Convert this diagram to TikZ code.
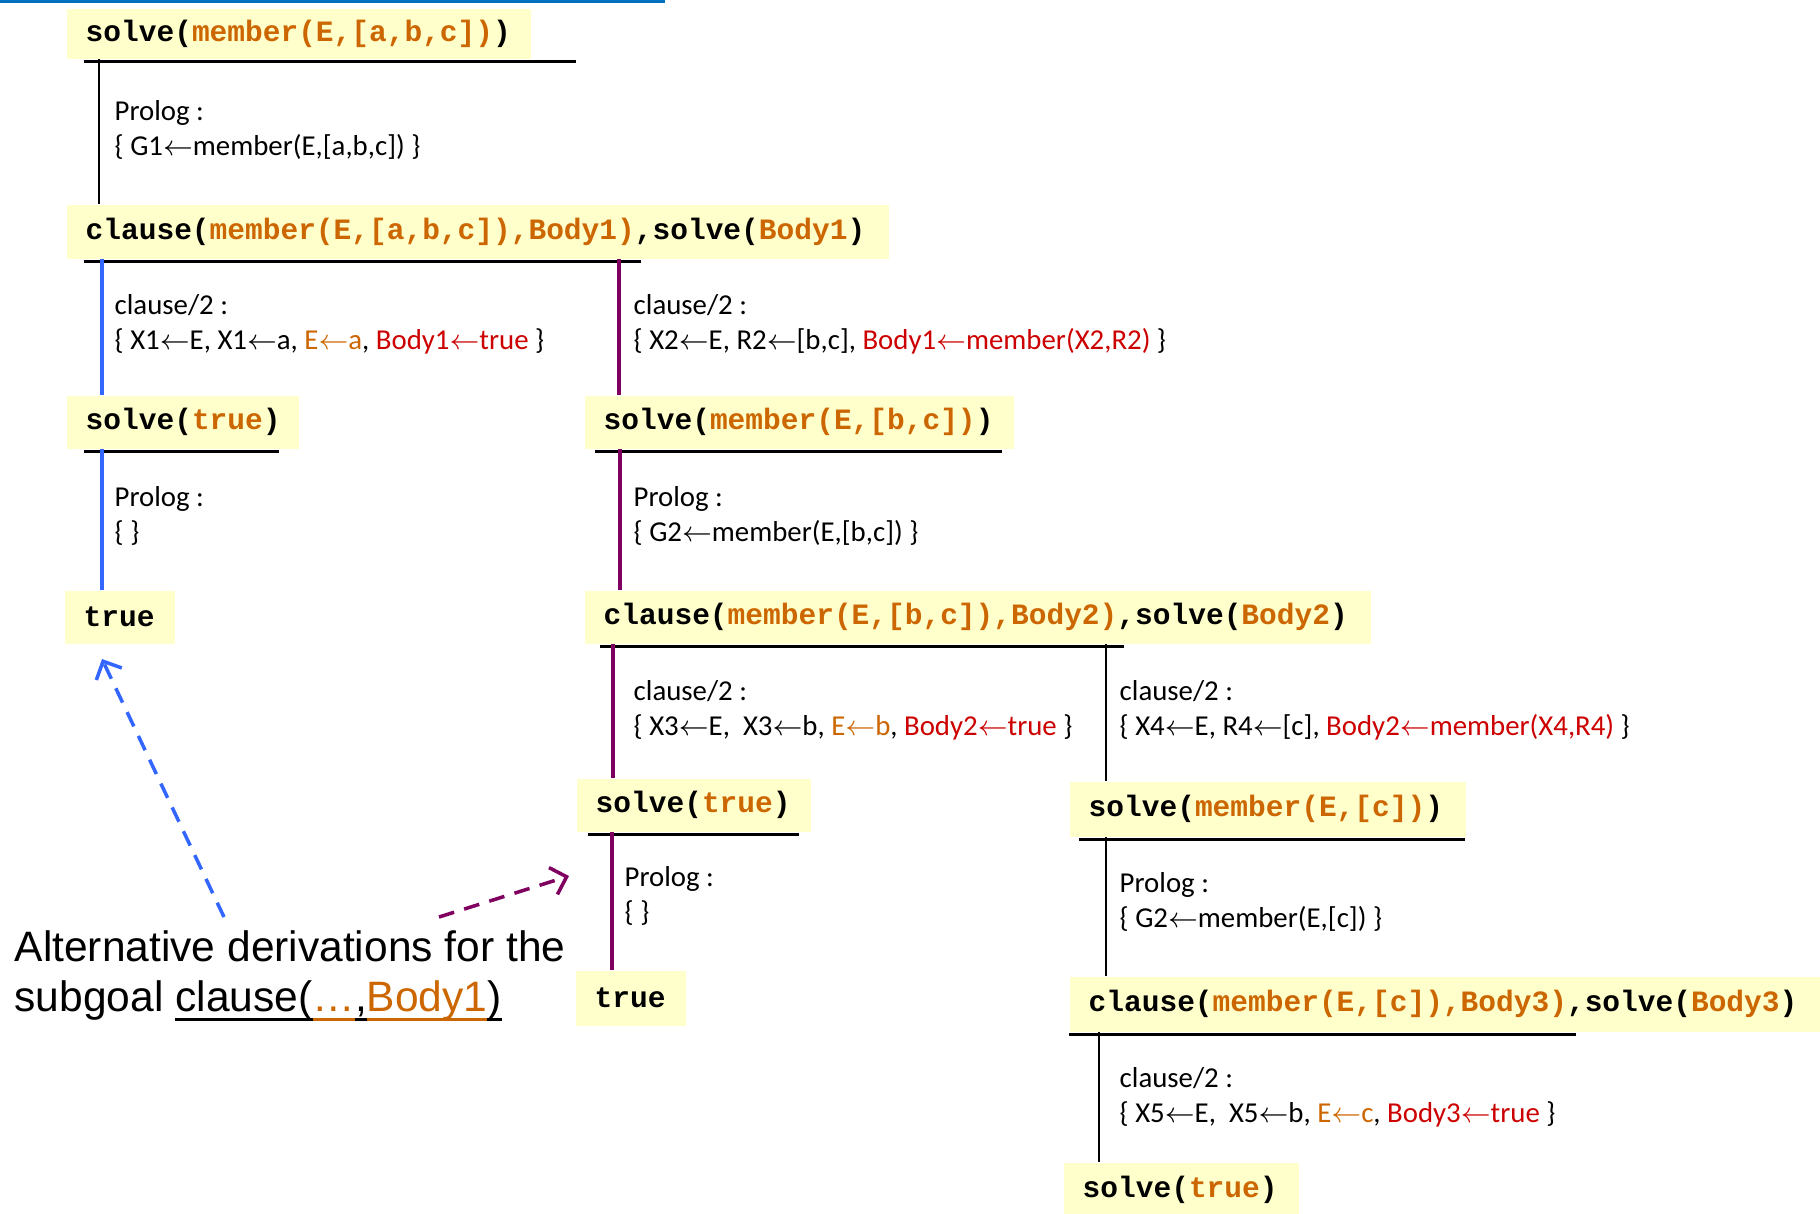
\documentclass[tikz,border=0pt]{standalone}
\usepackage{fontspec}
\setmainfont{Carlito}
\newfontfamily\codefont{Liberation Mono}
\newfontfamily\notefont{Liberation Sans}
\usetikzlibrary{arrows.meta}

\definecolor{boxyellow}{HTML}{FFFFCC}
\definecolor{termorange}{HTML}{CC6600}
\definecolor{bindred}{HTML}{CC0000}
\definecolor{pathblue}{HTML}{3366FF}
\definecolor{pathpurple}{HTML}{800060}
\definecolor{titleblue}{HTML}{0070C0}

\newcommand{\tm}[1]{\textcolor{termorange}{#1}}
\newcommand{\bd}[1]{\textcolor{bindred}{#1}}
\newcommand{\la}{\ensuremath{\leftarrow}}
\newcommand{\ulpart}[1]{\sbox0{#1}\rlap{\rule[-2.6pt]{\wd0}{0.85pt}}\usebox0}

\tikzset{
    goal/.style={fill=boxyellow, anchor=north west, align=left,
        inner xsep=1.9mm, inner ysep=0pt,
        font=\codefont\bfseries\fontsize{8.4}{10}\selectfont},
    steplbl/.style={anchor=west, align=left, inner sep=0pt,
        font=\fontsize{8.2}{10}\selectfont},
    note/.style={anchor=west, align=left, inner sep=0pt,
        font=\notefont\fontsize{12.1}{14.2}\selectfont},
    underbar/.style={black, line width=0.9pt},
    altarrow/.style={line width=1pt, dash pattern=on 4.5pt off 3pt,
        -{Straight Barb[length=4pt,width=8pt]}}
}

\begin{document}
\begin{tikzpicture}[x=0.1mm, y=-0.1mm]
    \useasboundingbox (0,0) rectangle (1820,1213);
    \draw[titleblue, line width=0.3mm] (0,1.5) -- (665,1.5);

    % goals
    \node[goal, text width=42.6mm, minimum height=5mm] (g1) at (66,8)
        {\mbox{solve(\tm{member(E,[a,b,c])})}};
    \node[goal, text width=78.4mm, minimum height=5.4mm] (g2) at (66,204)
        {\mbox{clause(\tm{member(E,[a,b,c]),Body1)},solve(\tm{Body1})}};
    \node[goal, text width=19.4mm, minimum height=5.3mm] (g3) at (66,395)
        {\mbox{solve(\tm{true})}};
    \node[goal, text width=39.1mm, minimum height=5.3mm] (g4) at (584,395)
        {\mbox{solve(\tm{member(E,[b,c])})}};
    \node[goal, text width=7.2mm, minimum height=5.3mm] (g5) at (64,590)
        {\mbox{true}};
    \node[goal, text width=74.8mm, minimum height=5.3mm] (g6) at (584,590)
        {\mbox{clause(\tm{member(E,[b,c]),Body2)},solve(\tm{Body2})}};
    \node[goal, text width=19.6mm, minimum height=5.3mm] (g7) at (576,778)
        {\mbox{solve(\tm{true})}};
    \node[goal, text width=35.8mm, minimum height=5.5mm] (g8) at (1069,781)
        {\mbox{solve(\tm{member(E,[c])})}};
    \node[goal, text width=7.2mm, minimum height=5.5mm] (g9) at (575,970)
        {\mbox{true}};
    \node[goal, text width=71.3mm, minimum height=5.5mm] (g10) at (1069,976)
        {\mbox{clause(\tm{member(E,[c]),Body3)},solve(\tm{Body3})}};
    \node[goal, text width=19.7mm, minimum height=5.5mm] (g11) at (1063,1162)
        {\mbox{solve(\tm{true})}};

    % underlines
    \foreach \g/\dx/\len in {g1/18/492, g2/18/557, g3/18/195, g4/11/407,
                             g6/16/524, g7/12/211, g8/10/386, g10/0/507} {
        \draw[underbar] (\g.south west) ++(\dx,2) -- ++(\len,0);
    }

    % derivation steps
    \foreach \from/\to/\dx/\col/\lw in {g1/g2/33/black/0.75pt,
            g2/g3/36/pathblue/1.1pt, g2/g4/35/pathpurple/1.1pt,
            g3/g5/38/pathblue/1.1pt, g4/g6/36/pathpurple/1.1pt,
            g6/g7/37/pathpurple/1.1pt, g6/g8/37/black/0.75pt,
            g7/g9/37/pathpurple/1.1pt, g8/g10/37/black/0.75pt,
            g10/g11/36/black/0.75pt} {
        \draw[draw=\col, line width=\lw] (\to.north west) ++(\dx,0) coordinate (t)
            -- (t |- \from.south);
    }

    \node[steplbl] (l1) at (114,130) {Prolog :\\\{ G1\la member(E,[a,b,c]) \}};
    \node[steplbl] (l2) at (114,324)
        {clause/2 :\\\{ X1\la E, X1\la a, \tm{E\la a}, \bd{Body1\la true} \}};
    \node[steplbl] (l3) at (633,324)
        {clause/2 :\\\{ X2\la E, R2\la [b,c], \bd{Body1\la member(X2,R2)} \}};
    \node[steplbl] (l4) at (114,516) {Prolog :\\\{ \}};
    \node[steplbl] (l5) at (633,516) {Prolog :\\\{ G2\la member(E,[b,c]) \}};
    \node[steplbl] (l6) at (633,710)
        {clause/2 :\\\{ X3\la E,\ \ X3\la b, \tm{E\la b}, \bd{Body2\la true} \}};
    \node[steplbl] (l7) at (1119,710)
        {clause/2 :\\\{ X4\la E, R4\la [c], \bd{Body2\la member(X4,R4)} \}};
    \node[steplbl] (l8) at (624,896) {Prolog :\\\{ \}};
    \node[steplbl] (l9) at (1119,902) {Prolog :\\\{ G2\la member(E,[c]) \}};
    \node[steplbl] (l10) at (1119,1097)
        {clause/2 :\\\{ X5\la E,\ \ X5\la b, \tm{E\la c}, \bd{Body3\la true} \}};

    % alternatives
    \node[note] (alt) at (14,976) {Alternative derivations for the\\subgoal
        \ulpart{clause(}\tm{\ulpart{…}}\ulpart{,}\tm{\ulpart{Body1}}\ulpart{)}};
    \coordinate (blueFrom) at (224,917);
    \coordinate (blueTo) at (102,659);
    \coordinate (purpleFrom) at (439,917);
    \coordinate (purpleTo) at (569,876);
    \draw[altarrow, pathblue] (blueFrom) -- (blueTo);
    \draw[altarrow, pathpurple] (purpleFrom) -- (purpleTo);
\end{tikzpicture}
\end{document}
